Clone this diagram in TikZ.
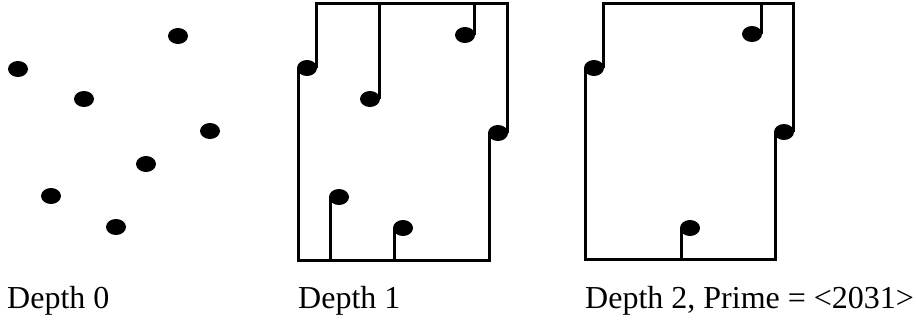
\documentclass[tikz,border=0pt]{standalone}
\usepackage{fontspec}
\setmainfont{Liberation Serif}
\usetikzlibrary{shapes.geometric}

\begin{document}
\begin{tikzpicture}[
    x=1pt, y=-1pt,
    pt/.style={ellipse, fill=black, draw=none, inner sep=0pt,
               outer sep=-1pt, minimum width=20pt, minimum height=16pt},
    wall/.style={line width=3pt},
    lbl/.style={anchor=base west, inner sep=0pt,
                font=\fontsize{32pt}{38pt}\selectfont}
  ]
  \useasboundingbox (0,0) rectangle (916,324);

  % Depth 0: the points alone
  \foreach \n/\x/\y in {A/178/36, B/18/69, C/84/99, D/210/131,
                        E/146/164, F/51/196, G/116/227} {
    \node[pt] (\n0) at (\x,\y) {};
  }
  \node[lbl] (cap0) at (7,308) {Depth 0};

  % Depth 1: frame with one stem per inner point
  \foreach \n/\x/\y in {A/465/35, B/307/68, C/370/99, D/498/133,
                        F/339/197, G/403/228} {
    \node[pt] (\n1) at (\x,\y) {};
  }
  \coordinate (top1) at (0,3);
  \coordinate (bot1) at (0,260);
  \draw[wall] (B1.east) |- (top1 -| D1.east) -- (D1.east);
  \draw[wall] (B1.west) |- (bot1 -| D1.west) -- (D1.west);
  \draw[wall] (A1.east) -- (A1.east |- top1);
  \draw[wall] (C1.east) -- (C1.east |- top1);
  \draw[wall] (F1.west) -- (F1.west |- bot1);
  \draw[wall] (G1.west) -- (G1.west |- bot1);
  \node[lbl] (cap1) at (298,308) {Depth 1};

  % Depth 2
  \foreach \n/\x/\y in {A/752/34, B/594/68, D/784/132, G/690/228} {
    \node[pt] (\n2) at (\x,\y) {};
  }
  \coordinate (top2) at (0,3);
  \coordinate (bot2) at (0,259);
  \draw[wall] (B2.east) |- (top2 -| D2.east) -- (D2.east);
  \draw[wall] (B2.west) |- (bot2 -| D2.west) -- (D2.west);
  \draw[wall] (A2.east) -- (A2.east |- top2);
  \draw[wall] (G2.west) -- (G2.west |- bot2);
  \node[lbl] (cap2) at (585,308) {Depth 2, Prime = <2031>};
\end{tikzpicture}
\end{document}
